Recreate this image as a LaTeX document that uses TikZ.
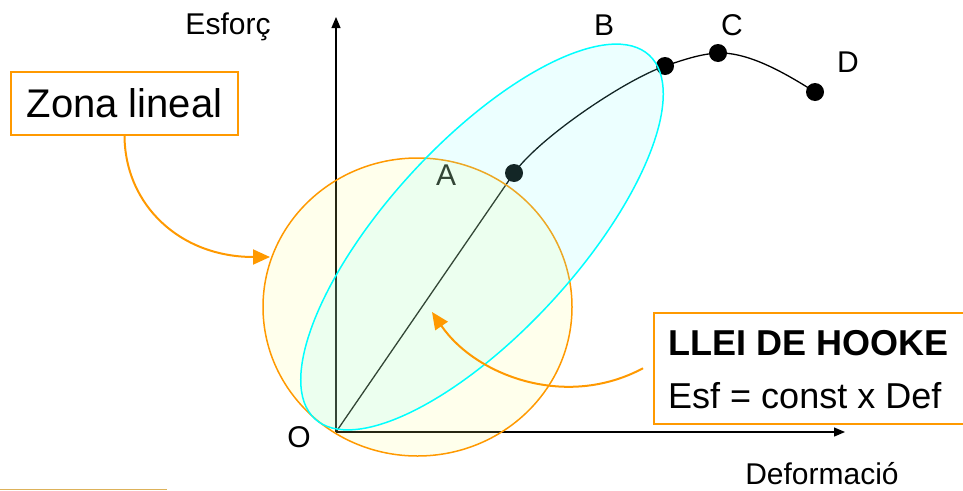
\documentclass[tikz,border=0pt]{standalone}
\usepackage{fontspec}
\setmainfont{Liberation Sans}
\usetikzlibrary{arrows.meta}
\definecolor{orng}{HTML}{FF9900}
\definecolor{cyn}{HTML}{00FFFF}
\definecolor{circfill}{HTML}{FFFF80}
\definecolor{ellfill}{HTML}{80FFFF}
\definecolor{goldline}{HTML}{DDB25A}
\begin{document}
\begin{tikzpicture}[x=1pt,y=-1pt,
  lbl/.style={font=\fontsize{30}{36}\selectfont, inner sep=0pt},
  dotnode/.style={circle, fill=black, inner sep=0pt, minimum size=18pt},
  axisline/.style={line width=1.2pt, -{Triangle[length=11pt,width=9pt]}},
  orarrow/.style={orng, line width=2pt, -{Triangle[length=17pt,width=15pt]}},
  obox/.style={draw=orng, line width=1.5pt, fill=white, inner sep=0pt},
  curveline/.style={line width=1.3pt},
]
\useasboundingbox (0,0) rectangle (963,490);
% axes
\coordinate (O) at (336,432);
\coordinate (Ytip) at (336,17);
\coordinate (Xtip) at (845,432);
\draw[axisline] (O) -- (Ytip);
\draw[axisline] (O) -- (Xtip);
% points
\node[dotnode] (Adot) at (514,173) {};
\node[dotnode] (Bdot) at (665,66) {};
\node[dotnode] (Cdot) at (718,53) {};
\node[dotnode] (Ddot) at (815,92) {};
\draw[curveline] (O) -- (Adot.center)
  .. controls (540,137) and (625,80) .. (Bdot.center)
  .. controls (683,60) and (700,54) .. (Cdot.center)
  .. controls (750,52) and (788,75) .. (Ddot.center);
% labels
\node[lbl, anchor=base] (Olbl) at (299,447) {O};
\node[lbl, anchor=base] (Albl) at (446,185) {A};
\node[lbl, anchor=base] (Blbl) at (604,35) {B};
\node[lbl, anchor=base] (Clbl) at (732,35) {C};
\node[lbl, anchor=base] (Dlbl) at (848,72) {D};
\node[lbl, anchor=base] (ylbl) at (228,34) {Esforç};
\node[lbl, anchor=base] (xlbl) at (822,484) {Deformació};
% zones
\draw[orng, line width=1.5pt, fill=circfill, fill opacity=0.15] (417.5,307) ellipse [x radius=154.5, y radius=149];
\draw[cyn, line width=1.5pt, fill=ellfill, fill opacity=0.15, rotate around={47.4:(482,237)}] (482,237) ellipse [x radius=247, y radius=95];
% boxes
\node[obox, minimum width=227pt, minimum height=63pt, font=\fontsize{40}{48}\selectfont] (zbox) at (124.5,103.5) {Zona lineal};
\node[obox, anchor=north west, minimum width=312pt, minimum height=111pt] (hbox) at (653,312) {};
\node[anchor=base west, inner sep=0pt, font=\fontsize{36}{43}\selectfont\bfseries] (h1) at (668,355) {LLEI DE HOOKE};
\node[anchor=base west, inner sep=0pt, font=\fontsize{36}{43}\selectfont] (h2) at (668,408) {Esf = const x Def};
% arrows
\coordinate (zend) at (270,257);
\draw[orarrow] (zbox.south) .. controls (125,205) and (180,257) .. (zend);
\coordinate (hend) at (432,312);
\draw[orarrow] ([xshift=-10pt]hbox.west) .. controls (565,410) and (475,375) .. (hend);
% bottom rule
\coordinate (g1) at (0,489);
\coordinate (g2) at (167,489);
\draw[goldline, line width=1pt] (g1) -- (g2);
\end{tikzpicture}
\end{document}
